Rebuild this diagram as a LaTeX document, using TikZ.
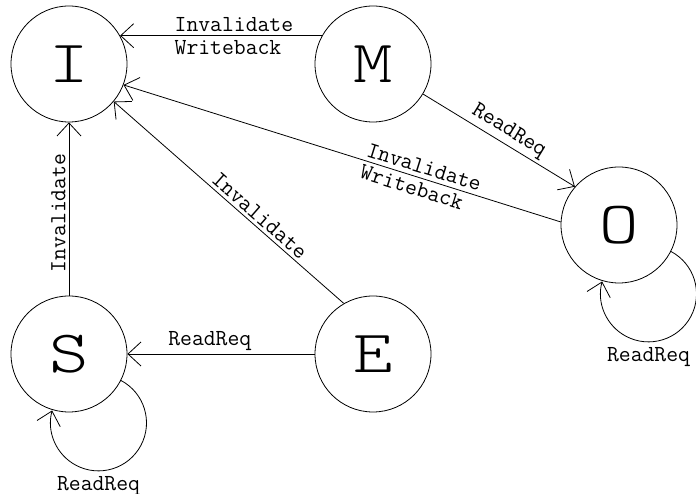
\documentclass[tikz,border=0pt]{standalone}
\usepackage{fontspec}
\newfontfamily\lmlt{Latin Modern Mono Light}
\usetikzlibrary{arrows.meta}
\begin{document}
\begin{tikzpicture}[x=1pt,y=1pt,
  state/.style={draw,circle,line width=0.8pt,minimum size=116pt,inner sep=0pt,
    font=\lmlt\fontsize{60}{60}\selectfont},
  lbl/.style={font=\ttfamily\fontsize{23}{23}\selectfont,inner sep=3pt},
  arr/.style={line width=0.8pt,-{Straight Barb[length=13pt,width=24pt,line width=0.8pt]}}]
\useasboundingbox (0,0) rectangle (696,494);
\node[state] (I) at (69,430) {\scalebox{1.25}[1]{I}};
\node[state] (M) at (373,430) {\scalebox{1.25}[1]{M}};
\node[state] (O) at (619,269) {\scalebox{1.25}[1]{O}};
\node[state] (S) at (69,140) {\scalebox{1.25}[1]{S}};
\node[state] (E) at (373,140) {\scalebox{1.25}[1]{E}};
% M -> I
\draw[arr] (M.151) -- node[lbl,pos=0.436,align=left,inner sep=0pt] {Invalidate\\Writeback} (I.29);
% M -> O
\draw[arr] (M.-31) -- node[lbl,pos=0.52,above,sloped] {ReadReq} (O.139);
% O -> I
\draw[arr] (O.177) -- node[lbl,pos=0.32,sloped,align=left,inner sep=0pt] {Invalidate\\Writeback} (I.-21);
% E -> I
\draw[arr] (E.120) -- node[lbl,pos=0.395,above,sloped] {Invalidate} (I.-40);
% E -> S
\draw[arr] (E.west) -- node[lbl,pos=0.56,above] {ReadReq} (S.east);
% S -> I
\draw[arr] (S.north) -- node[lbl,pos=0.477,above,sloped] {Invalidate} (I.south);
% self loops
\draw[arr] (S.-27) arc[start angle=62,end angle=-195,radius=48pt];
\node[lbl,below=2pt] (sloop) at ([shift={(-22.5,-90.4)}]S.-27) {ReadReq};
\draw[arr] (O.-27) arc[start angle=62,end angle=-195,radius=48pt];
\node[lbl,below=2pt] (oloop) at ([shift={(-22.5,-90.4)}]O.-27) {ReadReq};
\end{tikzpicture}
\end{document}
